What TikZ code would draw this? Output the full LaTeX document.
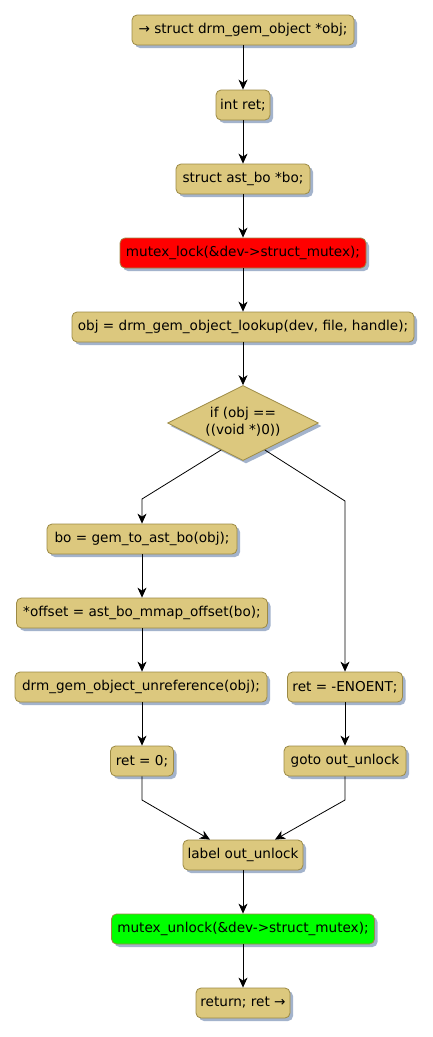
\documentclass[tikz,border=0pt]{standalone}
\usepackage{fontspec}
\setmainfont{DejaVu Sans}
\usetikzlibrary{shapes.geometric,shadows,arrows.meta}
\definecolor{boxfill}{HTML}{DCC87E}
\definecolor{boxdraw}{HTML}{9C8A45}
\definecolor{shadowcol}{HTML}{A3B3CC}
\definecolor{lockred}{HTML}{FF0000}
\definecolor{unlockgreen}{HTML}{00FF00}
\begin{document}
\begin{tikzpicture}[x=1pt,y=-1pt,
  act/.style={draw=boxdraw, fill=boxfill, rounded corners=5pt, minimum height=30pt,
    inner xsep=4pt, inner ysep=0pt, line width=0.8pt,
    font=\fontsize{13.6}{16}\selectfont,
    drop shadow={shadow xshift=3pt, shadow yshift=-3pt, fill=shadowcol, opacity=1}},
  dec/.style={diamond, draw=boxdraw, fill=boxfill, inner sep=0pt, line width=0.8pt,
    minimum width=151pt, minimum height=75pt,
    font=\fontsize{13.6}{17}\selectfont,
    drop shadow={shadow xshift=3pt, shadow yshift=-3pt, fill=shadowcol, opacity=1}},
  flow/.style={draw=black, line width=0.8pt, -{Stealth[length=10pt,width=9pt,inset=3pt]}},
  line/.style={draw=black, line width=0.8pt}
]
\useasboundingbox (0,0) rectangle (432,1037);
\fill[white] (0,0) rectangle (432,1037);

\node[act, minimum width=222pt] (n1) at (243,30) {→ struct drm\_gem\_object *obj;};
\node[act, minimum width=54pt] (n2) at (243,105) {int ret;};
\node[act, minimum width=134pt] (n3) at (243,179) {struct ast\_bo *bo;};
\node[act, fill=lockred, minimum width=246pt] (n4) at (243,253) {mutex\_lock(\&dev->struct\_mutex);};
\node[act, minimum width=342pt] (n5) at (243,327) {obj = drm\_gem\_object\_lookup(dev, file, handle);};
\node[dec] (dia) at (243,423) {\makebox[0pt]{\raisebox{-3.5pt}[0pt][0pt]{\begin{tabular}[c]{@{}c@{}}if (obj ==\\((void *)0))\end{tabular}}}};

\node[act, minimum width=190pt] (bo) at (142,539) {bo = gem\_to\_ast\_bo(obj);};
\node[act, minimum width=251pt] (off) at (142,613) {*offset = ast\_bo\_mmap\_offset(bo);};
\node[act, minimum width=252pt] (unref) at (141,687) {drm\_gem\_object\_unreference(obj);};
\node[act, minimum width=63pt] (ret0) at (142,761) {ret = 0;};

\node[act, minimum width=115pt] (enoent) at (345,687) {ret = -ENOENT;};
\node[act, minimum width=122pt] (goto) at (345,761) {goto out\_unlock};

\node[act, minimum width=120pt] (lbl) at (243,855) {label out\_unlock};
\node[act, fill=unlockgreen, minimum width=263pt] (unlock) at (243,929) {mutex\_unlock(\&dev->struct\_mutex);};
\node[act, minimum width=94pt] (ret) at (243,1003) {return; ret →};

\coordinate (lbend) at (142,499);
\coordinate (rbend) at (345,501);
\coordinate (lmerge) at (142,800);
\coordinate (rmerge) at (345,800);

\draw[flow] (n1) -- (n2);
\draw[flow] (n2) -- (n3);
\draw[flow] (n3) -- (n4);
\draw[flow] (n4) -- (n5);
\draw[flow] (n5) -- (dia);
\draw[flow] (dia.231) -- (lbend) -- (bo.north);
\draw[flow] (bo) -- (off);
\draw[flow] (off.south) -- (unref.north -| off.south);
\draw[flow] (unref.south -| ret0.north) -- (ret0.north);
\draw[flow] (dia.309) -- (rbend) -- (enoent.north);
\draw[flow] (enoent) -- (goto);
\draw[flow] (ret0.south) -- (lmerge) -- ([xshift=-33pt]lbl.north);
\draw[flow] (goto.south) -- (rmerge) -- ([xshift=32pt]lbl.north);
\draw[flow] (lbl) -- (unlock);
\draw[flow] (unlock) -- (ret);
\end{tikzpicture}
\end{document}
